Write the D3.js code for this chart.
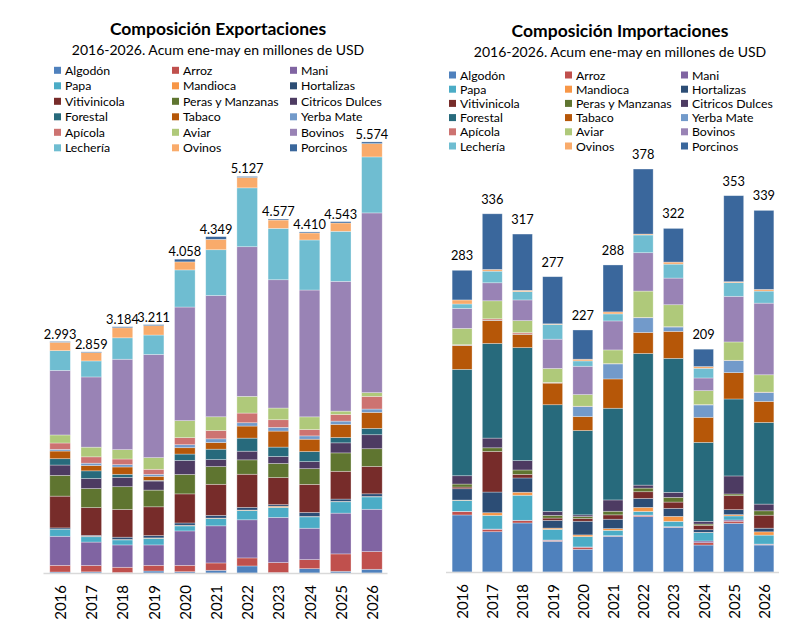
<!DOCTYPE html>
<html>
<head>
<meta charset="utf-8">
<script src="https://cdnjs.cloudflare.com/ajax/libs/d3/7.8.5/d3.min.js"></script>
<style>
  body { margin: 0; background: #ffffff; }
  text { font-family: Lato, "Open Sans", sans-serif; fill: #000000; }
</style>
</head>
<body>
<svg id="chart" width="807" height="632"></svg>
<script>

// years on the x axis
var years = ["2016", "2017", "2018", "2019", "2020", "2021", "2022", "2023", "2024", "2025", "2026"];

// series, from the bottom of the stack to the top
var seriesNames = ["Algodón", "Arroz", "Mani", "Papa", "Mandioca", "Hortalizas",
    "Vitivinicola", "Peras y Manzanas", "Citricos Dulces", "Forestal", "Tabaco", "Yerba Mate",
    "Apícola", "Aviar", "Bovinos", "Lechería", "Ovinos", "Porcinos"];

var seriesColors = ["#4F81BD", "#C0504D", "#8064A2", "#4BACC6", "#F79646", "#2C4D75",
    "#772C2A", "#5F7530", "#4D3B62", "#276A7C", "#B65708", "#729ACA",
    "#CD7371", "#AFC97A", "#9983B5", "#6FBDD1", "#F9AB6B", "#3A679C"];

// exports, millions of USD (2016 ... 2026)
var expAlgodon      = [13, 15, 5, 26, 17, 35, 91, 5, 56, 22, 48];
var expArroz        = [86, 82, 69, 73, 82, 95, 104, 130, 117, 225, 229];
var expMani         = [376, 303, 289, 264, 445, 480, 493, 584, 406, 527, 547];
var expPapa         = [91, 69, 65, 86, 65, 95, 121, 130, 147, 147, 160];
var expMandioca     = [0, 5, 5, 5, 8, 5, 5, 15, 5, 5, 5];
var expHortalizas   = [17, 13, 30, 30, 30, 35, 35, 20, 52, 30, 35];
var expVitivinicola = [411, 359, 359, 372, 376, 402, 428, 350, 363, 359, 354];
var expPeras        = [268, 246, 294, 216, 251, 229, 186, 182, 203, 238, 229];
var expCitricos     = [134, 130, 121, 117, 182, 91, 112, 91, 91, 130, 181];
var expForestal     = [82, 99, 39, 9, 82, 134, 169, 121, 130, 69, 82];
var expTabaco       = [99, 69, 95, 52, 82, 86, 156, 207, 160, 169, 207];
var expYerba        = [22, 30, 30, 26, 39, 48, 43, 48, 43, 43, 43];
var expApicola      = [82, 82, 73, 65, 91, 108, 125, 99, 82, 86, 164];
var expAviar        = [104, 125, 121, 151, 220, 177, 216, 151, 164, 43, 48];
var expBovinos      = [835, 908, 1169, 1334, 1469, 1568, 1935, 1659, 1640, 1678, 2324];
var expLecheria     = [255, 207, 277, 251, 480, 592, 761, 664, 647, 647, 724];
var expOvinos       = [108, 108, 130, 121, 104, 134, 134, 108, 91, 108, 172];
var expPorcinos     = [10, 9, 13, 13, 35, 35, 13, 13, 13, 17, 22];

// imports, millions of USD (2016 ... 2026)
var impAlgodon      = [53.5, 37.8, 46, 28.8, 21.3, 33.5, 51.9, 41.9, 25.3, 45.7, 25.3];
var impArroz        = [3.1, 2.2, 2.2, 0.9, 1.9, 0.3, 1.2, 0.3, 2.2, 1.9, 0.6];
var impMani         = [0.3, 0.3, 0.3, 0.3, 0.3, 0.3, 0.3, 0.3, 1.6, 1.2, 0.3];
var impPapa         = [10.3, 12.8, 23.5, 10, 9.7, 5, 3.4, 5, 7.8, 3.8, 8.4];
var impMandioca     = [0.3, 2.5, 2.8, 1.2, 1.6, 1.6, 3.8, 4.7, 0.3, 1.2, 3.1];
var impHortalizas   = [10.6, 19.4, 13.4, 7.2, 12.8, 8.8, 8.4, 7.5, 2.5, 4.7, 3.4];
var impVitivinicola = [1.6, 38.1, 3.4, 2.2, 2.5, 4.1, 6.3, 5.9, 4.1, 13.1, 12.2];
var impPeras        = [2.8, 3.4, 4.1, 2.5, 1.9, 3.4, 3.4, 4.4, 1.2, 1.6, 4.1];
var impCitricos     = [7.8, 9.1, 8.8, 3.8, 1.6, 10.6, 2.8, 4.7, 2.5, 16.9, 6.3];
var impForestal     = [99.8, 88.8, 106, 100, 79.1, 86, 123.5, 125.7, 74.1, 72.2, 76.6];
var impTabaco       = [22.5, 21.6, 12.5, 20.3, 13.1, 27.5, 19.7, 25.3, 23.5, 24.7, 19.7];
var impYerba        = [0.3, 0.3, 0.3, 0.3, 9.4, 14.1, 13.8, 4.1, 11.6, 11.3, 8.4];
var impApicola      = [0.3, 1.2, 1.2, 0.3, 0.3, 0.3, 0.3, 0.3, 0.3, 0.3, 0.3];
var impAviar        = [15.3, 16.9, 11.3, 13.1, 10.9, 12.8, 24.7, 20.6, 13.1, 17.2, 16.3];
var impBovinos      = [18.8, 16.9, 19.4, 27.5, 26.6, 27.2, 36, 25, 11.9, 42.8, 67.2];
var impLecheria     = [4.1, 10.9, 7.8, 13.8, 5, 6.6, 16.6, 13.1, 9.1, 12.8, 11.3];
var impOvinos       = [3.8, 1.6, 1.2, 0.6, 1.6, 1.9, 0.9, 1.9, 1.6, 0.9, 1.6];
var impPorcinos     = [27.8, 52.2, 52.8, 44.2, 27.4, 44, 61, 31.6, 16.3, 80.7, 74.1];

var exportValues = [expAlgodon, expArroz, expMani, expPapa, expMandioca, expHortalizas,
    expVitivinicola, expPeras, expCitricos, expForestal, expTabaco, expYerba,
    expApicola, expAviar, expBovinos, expLecheria, expOvinos, expPorcinos];

var importValues = [impAlgodon, impArroz, impMani, impPapa, impMandioca, impHortalizas,
    impVitivinicola, impPeras, impCitricos, impForestal, impTabaco, impYerba,
    impApicola, impAviar, impBovinos, impLecheria, impOvinos, impPorcinos];

var subtitleText = "2016-2026. Acum ene-may en millones de USD";

var svg = d3.select("#chart");

// numbers with a dot as thousands separator
var localeAr = d3.formatLocale({ decimal: ",", thousands: ".", grouping: [3], currency: ["$", ""] });
var formatThousands = localeAr.format(",d");
var formatPlain = function(v) { return String(Math.round(v)); };

// one row per year, one column per series
function buildTable(values) {
    return years.map(function(year, j) {
        var row = { year: year };
        seriesNames.forEach(function(name, i) { row[name] = values[i][j]; });
        return row;
    });
};

// title and subtitle
function drawTitles(g, opts) {
    g.append("text")
        .attr("x", opts.centerX)
        .attr("y", opts.titleY)
        .attr("text-anchor", "middle")
        .attr("dominant-baseline", "central")
        .style("font-size", "17.5px")
        .style("font-weight", "bold")
        .text(opts.title);

    g.append("text")
        .attr("x", opts.centerX)
        .attr("y", opts.subtitleY)
        .attr("text-anchor", "middle")
        .attr("dominant-baseline", "central")
        .style("font-size", "14px")
        .text(subtitleText);
};

// legend in three columns, filled row by row
function drawLegend(g, opts) {
    var items = g.selectAll(".legendItem")
        .data(seriesNames)
        .enter().append("g")
        .attr("class", "legendItem")
        .attr("transform", function(d, i) {
            return "translate(" + opts.legendCols[i % 3] + "," + (opts.legendY + Math.floor(i / 3) * opts.legendStep) + ")";
        });

    items.append("rect")
        .attr("x", 0)
        .attr("y", -3.5)
        .attr("width", 7)
        .attr("height", 7)
        .attr("fill", function(d, i) { return seriesColors[i]; });

    items.append("text")
        .attr("x", 11)
        .attr("y", 0)
        .attr("dominant-baseline", "central")
        .style("font-size", "12.3px")
        .text(function(d) { return d; });
};

// stacked bars, totals and year axis
function drawBars(g, opts) {
    var table = buildTable(opts.values);
    var stacked = d3.stack().keys(seriesNames)(table);

    var x = d3.scaleBand()
        .domain(years)
        .range(opts.xRange)
        .paddingInner(0.34)
        .paddingOuter(0.17);

    var y = d3.scaleLinear()
        .domain([0, opts.yMax])
        .range([opts.baseline, opts.yTop]);

    // segments
    g.selectAll(".layer")
        .data(stacked)
        .enter().append("g")
        .attr("class", "layer")
        .attr("fill", function(d, i) { return seriesColors[i]; })
        .selectAll("rect")
        .data(function(d) { return d; })
        .enter().append("rect")
        .attr("x", function(d) { return x(d.data.year); })
        .attr("width", x.bandwidth())
        .attr("y", function(d) { return y(d[1]); })
        .attr("height", function(d) { return y(d[0]) - y(d[1]); })
        .attr("stroke", "rgba(255,255,255,0.45)")
        .attr("stroke-width", 0.7);

    // totals above the bars
    g.selectAll(".total")
        .data(table)
        .enter().append("text")
        .attr("class", "total")
        .attr("x", function(d) { return x(d.year) + x.bandwidth() / 2; })
        .attr("y", function(d) { return y(d3.sum(seriesNames, function(k) { return d[k]; })) - opts.labelGap; })
        .attr("text-anchor", "middle")
        .style("font-size", "12.8px")
        .text(function(d) { return opts.format(d3.sum(seriesNames, function(k) { return d[k]; })); });

    // base line
    g.append("line")
        .attr("x1", opts.xRange[0] - 1)
        .attr("x2", opts.xRange[1])
        .attr("y1", opts.baseline + 0.5)
        .attr("y2", opts.baseline + 0.5)
        .attr("stroke", "#D9D9D9")
        .attr("stroke-width", 1.3);

    // rotated year labels
    g.selectAll(".yearLabel")
        .data(years)
        .enter().append("text")
        .attr("class", "yearLabel")
        .attr("transform", function(d) {
            return "translate(" + (x(d) + x.bandwidth() / 2) + "," + (opts.baseline + 12) + ") rotate(-90)";
        })
        .attr("text-anchor", "end")
        .attr("dominant-baseline", "central")
        .style("font-size", "15px")
        .text(function(d) { return d; });
};

// draw one complete chart
function drawChart(opts) {
    var g = svg.append("g");
    drawTitles(g, opts);
    drawLegend(g, opts);
    drawBars(g, opts);
};

// exports chart on the left
drawChart({
    title: "Composición Exportaciones",
    centerX: 218,
    titleY: 28,
    subtitleY: 49,
    legendCols: [54, 172, 290],
    legendY: 70.3,
    legendStep: 15.5,
    values: exportValues,
    xRange: [44.5, 387.5],
    baseline: 573,
    yMax: 6000,
    yTop: 573 - 6000 / 12.93,
    labelGap: 3,
    format: formatThousands
});

// imports chart on the right
drawChart({
    title: "Composición Importaciones",
    centerX: 620,
    titleY: 30,
    subtitleY: 51.5,
    legendCols: [449, 565, 681],
    legendY: 75,
    legendStep: 14.2,
    values: importValues,
    xRange: [447, 779],
    baseline: 572,
    yMax: 400,
    yTop: 572 - 400 / 0.938,
    labelGap: 10,
    format: formatPlain
});

</script>
</body>
</html>
